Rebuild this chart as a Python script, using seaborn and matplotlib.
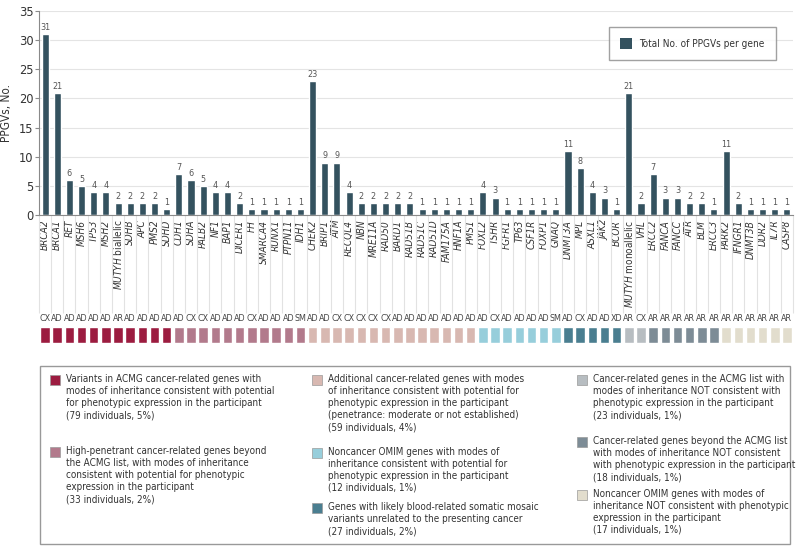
import matplotlib
matplotlib.use("Agg")
import numpy as np
import pandas as pd
import matplotlib.pyplot as plt
import seaborn as sns
from matplotlib.patches import Rectangle, Patch
from matplotlib.transforms import blended_transform_factory

# ==========================
#  Data
# ==========================
genes = ["BRCA2", "BRCA1", "RET", "MSH6", "TP53", "MSH2", "MUTYH biallelic", "SDHB", "APC", "PMS2", "SDHD",
         "CDH1", "SDHA", "PALB2", "NF1", "BAP1", "DICER1", "FH", "SMARCA4", "RUNX1", "PTPN11", "IDH1",
         "CHEK2", "BRIP1", "ATM", "RECQL4", "NBN", "MRE11A", "RAD50", "BARD1", "RAD51B", "RAD51C", "RAD51D",
         "FAM175A", "HNF1A", "PMS1",
         "FOXL2", "TSHR", "FGFR1", "TP63", "CSF1R", "FOXP1", "GNAQ",
         "DNMT3A", "MPL", "ASXL1", "JAK2", "BCOR",
         "MUTYH monoallelic", "VHL",
         "ERCC2", "FANCA", "FANCC", "ATR", "BLM", "ERCC3",
         "PARK2", "IFNGR1", "DNMT3B", "DDR2", "IL7R", "CASP8"]
counts = [31, 21, 6, 5, 4, 4, 2, 2, 2, 2, 1,
          7, 6, 5, 4, 4, 2, 1, 1, 1, 1, 1,
          23, 9, 9, 4, 2, 2, 2, 2, 2, 1, 1, 1, 1, 1,
          4, 3, 1, 1, 1, 1, 1,
          11, 8, 4, 3, 1,
          21, 2,
          7, 3, 3, 2, 2, 1,
          11, 2, 1, 1, 1, 1]
modes = ["CX", "AD", "AD", "AD", "AD", "AD", "AR", "AD", "AD", "AD", "AD",
         "AD", "CX", "CX", "AD", "AD", "AD", "CX", "AD", "AD", "AD", "SM",
         "AD", "AD", "CX", "CX", "CX", "CX", "CX", "AD", "AD", "AD", "AD", "AD", "AD", "AD",
         "AD", "CX", "AD", "AD", "AD", "AD", "SM",
         "AD", "CX", "AD", "AD", "XD",
         "AR", "CX",
         "AR", "AR", "AR", "AR", "AR", "AR",
         "AR", "AR", "AR", "AR", "AR", "AR"]
group = (["acmg"] * 11 + ["high"] * 11 + ["additional"] * 14 + ["omim"] * 7 + ["blood"] * 5
         + ["acmg_not"] * 2 + ["beyond_not"] * 6 + ["omim_not"] * 6)

group_colors = {
    "acmg": "#9c1c40",
    "high": "#b27a8c",
    "additional": "#d8b8b1",
    "omim": "#97cedb",
    "blood": "#4a7e90",
    "acmg_not": "#b7bdc1",
    "beyond_not": "#7d8c96",
    "omim_not": "#e2ddcd",
}
group_labels = {
    "acmg": "Variants in ACMG cancer-related genes with\nmodes of inheritance consistent with potential\nfor phenotypic expression in the participant\n(79 individuals, 5%)",
    "high": "High-penetrant cancer-related genes beyond\nthe ACMG list, with modes of inheritance\nconsistent with potential for phenotypic\nexpression in the participant\n(33 individuals, 2%)",
    "additional": "Additional cancer-related genes with modes\nof inheritance consistent with potential for\nphenotypic expression in the participant\n(penetrance: moderate or not established)\n(59 individuals, 4%)",
    "omim": "Noncancer OMIM genes with modes of\ninheritance consistent with potential for\nphenotypic expression in the participant\n(12 individuals, 1%)",
    "blood": "Genes with likely blood-related somatic mosaic\nvariants unrelated to the presenting cancer\n(27 individuals, 2%)",
    "acmg_not": "Cancer-related genes in the ACMG list with\nmodes of inheritance NOT consistent with\nphenotypic expression in the participant\n(23 individuals, 1%)",
    "beyond_not": "Cancer-related genes beyond the ACMG list\nwith modes of inheritance NOT consistent\nwith phenotypic expression in the participant\n(18 individuals, 1%)",
    "omim_not": "Noncancer OMIM genes with modes of\ninheritance NOT consistent with phenotypic\nexpression in the participant\n(17 individuals, 1%)",
}

BAR = "#34525f"
TXT = "#333333"

# ==========================
#  Style
# ==========================
sns.set_theme(style="white")
plt.rcParams["font.family"] = ["DejaVu Sans"]
plt.rcParams["font.stretch"] = "condensed"
plt.rcParams["mathtext.fontset"] = "custom"
plt.rcParams["mathtext.it"] = "DejaVu Sans:italic"
plt.rcParams["mathtext.rm"] = "DejaVu Sans"

W, H = 800, 552
fig = plt.figure(figsize=(W / 100, H / 100), dpi=100)
n = len(genes)

# ==========================
#  Main bar chart
# ==========================
ax = fig.add_axes([39 / W, 1 - 215 / H, 754 / W, 204 / H])
df = pd.DataFrame({"gene": genes, "n": counts})
sns.barplot(data=df, x="gene", y="n", color=BAR, saturation=1, width=0.58, ax=ax)
ax.bar_label(ax.containers[0], fontsize=6.5, color="#555555", padding=1.5)

ax.set_xlim(-0.5, n - 0.5)
ax.set_ylim(0, 35)
ax.set_yticks(range(0, 36, 5))
ax.yaxis.grid(True, color="#e4e4e4", lw=0.8)
ax.set_axisbelow(True)
for s in ["top", "right"]:
    ax.spines[s].set_visible(False)
for s in ["left", "bottom"]:
    ax.spines[s].set_color("#8a8a8a")
    ax.spines[s].set_linewidth(0.8)
ax.tick_params(axis="y", left=True, length=3, width=0.8, color="#8a8a8a", labelsize=9.2, labelcolor=TXT, pad=1)
ax.tick_params(axis="x", length=0, pad=3.5)

labels = []
for g in genes:
    if " " in g:
        name, rest = g.split(" ")
        labels.append(r"$\mathit{" + name + "}$ " + rest)
    else:
        labels.append(g)
ax.set_xticks(range(n))
ax.set_xticklabels(labels, rotation=90, fontsize=7.2, color=TXT)
for lab, g in zip(ax.get_xticklabels(), genes):
    lab.set_fontstyle("normal" if " " in g else "italic")
ax.set_xlabel("")
ax.set_ylabel("PPGVs, No.", fontsize=8.5, color=TXT, labelpad=4)

# column separators in the label area
trans = blended_transform_factory(ax.transData, ax.transAxes)
ax.vlines(np.arange(n + 1) - 0.5, -98 / 204, 0, transform=trans, color="#e2e2e2", lw=0.8, clip_on=False)

ax.legend(handles=[Patch(facecolor=BAR, edgecolor="none", label="Total No. of PPGVs per gene")],
          loc="upper right", bbox_to_anchor=(0.977, 0.922), borderaxespad=0, fontsize=7.2,
          frameon=True, fancybox=False, edgecolor="#8a8a8a", handlelength=1.2, handleheight=1.4,
          borderpad=1.1, handletextpad=0.7, labelcolor=TXT)

# ==========================
#  Category strip with inheritance modes
# ==========================
ax2 = fig.add_axes([39 / W, 1 - 343 / H, 754 / W, 16 / H])
strip = pd.DataFrame({"gene": genes, "one": 1, "group": group})
sns.barplot(data=strip, x="gene", y="one", hue="group", palette=group_colors, dodge=False,
            saturation=1, width=0.78, legend=False, ax=ax2)
ax2.set_xlim(-0.5, n - 0.5)
ax2.set_ylim(0, 1)
ax2.axis("off")
for i, m in enumerate(modes):
    ax2.text(i, 1.55, m, ha="center", va="center", fontsize=6.4, color="#444444")

# ==========================
#  Category legend
# ==========================
fig.add_artist(Rectangle((40 / W, 1 - 544 / H), 750 / W, 178 / H, transform=fig.transFigure,
                         fill=False, edgecolor="#999999", lw=1))
legend_pos = {
    "acmg": (50, 375), "high": (50, 447),
    "additional": (312, 375), "omim": (312, 448), "blood": (312, 503),
    "acmg_not": (577, 375), "beyond_not": (577, 437), "omim_not": (577, 490),
}
for key, (px, py) in legend_pos.items():
    fig.add_artist(Rectangle((px / W, 1 - (py + 10) / H), 10 / W, 10 / H, transform=fig.transFigure,
                             facecolor=group_colors[key], edgecolor="#9a9a9a", lw=0.5))
    fig.text((px + 16) / W, 1 - (py - 1) / H, group_labels[key], ha="left", va="top",
             fontsize=7.1, color=TXT, linespacing=1.25)

fig.savefig("out.png", dpi=100)
